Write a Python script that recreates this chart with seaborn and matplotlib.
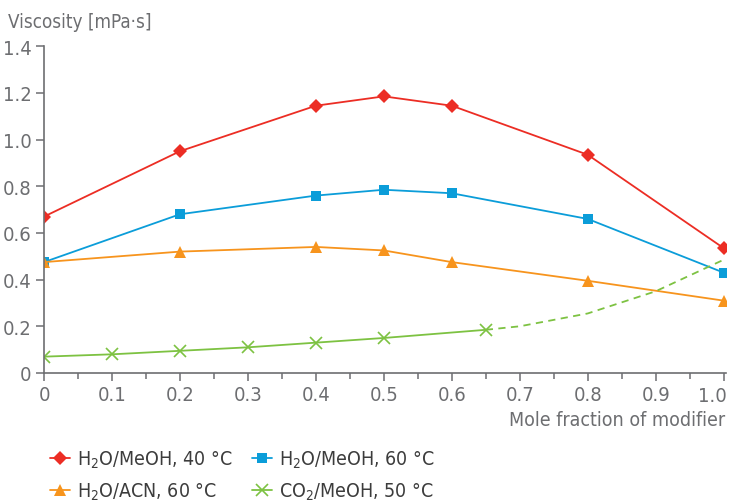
import numpy as np
import pandas as pd
import matplotlib
matplotlib.use("Agg")
import matplotlib.pyplot as plt
from matplotlib.ticker import MultipleLocator
import seaborn as sns

# --- data ---
x_meoh = [0.0, 0.2, 0.4, 0.5, 0.6, 0.8, 1.0]
visc_meoh_40 = [0.67, 0.95, 1.145, 1.185, 1.145, 0.935, 0.535]
visc_meoh_60 = [0.475, 0.68, 0.76, 0.785, 0.77, 0.66, 0.43]
visc_acn_60 = [0.475, 0.52, 0.54, 0.525, 0.475, 0.395, 0.31]

x_co2 = [0.0, 0.1, 0.2, 0.3, 0.4, 0.5, 0.65]
visc_co2_50 = [0.07, 0.08, 0.095, 0.11, 0.13, 0.15, 0.185]
# dashed extrapolation of the CO2 curve
x_co2_ext = [0.65, 0.7, 0.8, 0.9, 1.0]
visc_co2_ext = [0.185, 0.2, 0.255, 0.35, 0.485]

labels = [r"H$_2$O/MeOH, 40 °C", r"H$_2$O/MeOH, 60 °C",
          r"H$_2$O/ACN, 60 °C", r"CO$_2$/MeOH, 50 °C"]

RED, BLUE, ORANGE, GREEN = "#ec2d24", "#0b9dd9", "#f7941d", "#7dc242"
GREY = "#6d6e71"

sns.set_theme(style="white")
plt.rcParams["font.family"] = ["DejaVu Sans"]
plt.rcParams["font.stretch"] = "condensed"
plt.rcParams["mathtext.fontset"] = "custom"
plt.rcParams["mathtext.rm"] = "DejaVu Sans:stretch=condensed"
plt.rcParams["mathtext.it"] = "DejaVu Sans:stretch=condensed"

fig = plt.figure(figsize=(7.29, 5.02), dpi=100)
ax = fig.add_axes([0.0604, 0.255, 0.935, 0.651])

sns.lineplot(x=x_meoh, y=visc_meoh_40, ax=ax, color=RED, marker="D",
             markersize=7, markeredgewidth=0, lw=1.3, label=labels[0])
sns.lineplot(x=x_meoh, y=visc_meoh_60, ax=ax, color=BLUE, marker="s",
             markersize=7, markeredgewidth=0, lw=1.3, label=labels[1])
sns.lineplot(x=x_meoh, y=visc_acn_60, ax=ax, color=ORANGE, marker="^",
             markersize=8, markeredgewidth=0, lw=1.3, label=labels[2])
sns.lineplot(x=x_co2, y=visc_co2_50, ax=ax, color=GREEN, marker="x",
             markersize=8, markeredgewidth=1.2, markeredgecolor=GREEN,
             lw=1.3, label=labels[3])
sns.lineplot(x=x_co2_ext, y=visc_co2_ext, ax=ax, color=GREEN, lw=1.3,
             linestyle=(0, (4, 3)))

ax.set_xlim(0, 1.003)
ax.set_ylim(0, 1.4)
ax.xaxis.set_minor_locator(MultipleLocator(0.05))
xt = np.arange(0, 1.01, 0.1)
ax.set_xticks(xt)
# last label drawn separately so it stays inside the picture
ax.set_xticklabels(["0"] + [f"{v:.1f}" for v in xt[1:-1]] + [""])
ax.annotate("1.0", xy=(xt[-1], 0), xycoords=("data", "axes fraction"),
            xytext=(-8, -9.5), textcoords="offset points", ha="center",
            va="top", color=GREY, fontsize=14.5)
yt = np.arange(0, 1.41, 0.2)
ax.set_yticks(yt)
ax.set_yticklabels(["0"] + [f"{v:.1f}" for v in yt[1:]])

for s in ["top", "right"]:
    ax.spines[s].set_visible(False)
for s in ["left", "bottom"]:
    ax.spines[s].set_color(GREY)
    ax.spines[s].set_linewidth(1.2)
ax.tick_params(which="both", direction="out", color=GREY, width=1.1,
               labelcolor=GREY, labelsize=14.5, left=True, bottom=True)
ax.tick_params(which="major", length=6, pad=3)
ax.tick_params(which="minor", length=4)

ax.set_xlabel("")
ax.set_ylabel("")
fig.text(0.011, 0.955, "Viscosity [mPa·s]", color=GREY, fontsize=13.5,
         ha="left", va="center")
fig.text(0.995, 0.163, "Mole fraction of modifier", color=GREY, fontsize=14,
         ha="right", va="center")

# row-wise legend order like the reference
h, l = ax.get_legend_handles_labels()
order = [0, 2, 1, 3]
ax.legend([h[i] for i in order], [l[i] for i in order],
          loc="upper left", bbox_to_anchor=(0.058, 0.12),
          bbox_transform=fig.transFigure, ncol=2, frameon=False,
          fontsize=14, handlelength=1.0, handletextpad=0.4,
          columnspacing=1.0, labelspacing=0.55, borderaxespad=0,
          labelcolor="#3c3c3c")

fig.savefig("out.png", dpi=100)
